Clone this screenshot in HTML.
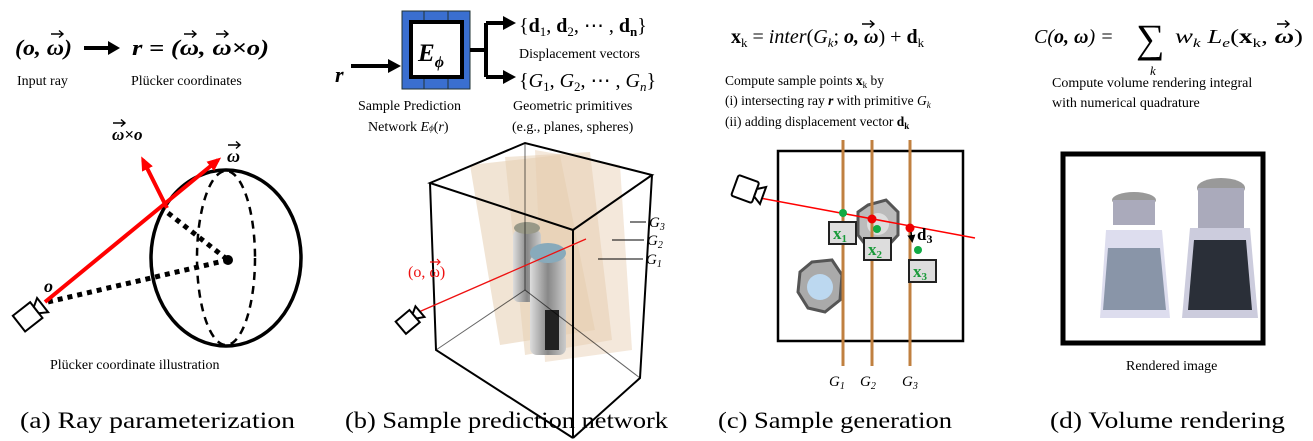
<!DOCTYPE html>
<html><head><meta charset="utf-8"><style>
html,body{margin:0;padding:0;background:#fff;}
svg{display:block;font-family:"Liberation Serif",serif;}
</style></head><body>
<svg width="1313" height="441" viewBox="0 0 1313 441" xmlns="http://www.w3.org/2000/svg">
<defs>
<marker id="ab" markerWidth="8" markerHeight="8" refX="5" refY="4" orient="auto" markerUnits="userSpaceOnUse"><path d="M0,0 L8,4 L0,8 Z" fill="#000"/></marker>
<marker id="ar" markerWidth="14" markerHeight="12" refX="10" refY="6" orient="auto" markerUnits="userSpaceOnUse"><path d="M0,0 L14,6 L0,12 Z" fill="#f00"/></marker>
<linearGradient id="glass" x1="0" x2="1"><stop offset="0" stop-color="#ddd"/><stop offset="0.5" stop-color="#888"/><stop offset="1" stop-color="#ccc"/></linearGradient>
<path id="va" d="M0,0 H12 M8,-3.5 L12,0 L8,3.5" stroke="#000" stroke-width="1.4" fill="none"/>
</defs>

<!-- (a) -->
<text x="15" y="55" font-size="22" font-weight="bold" font-style="italic" textLength="57" lengthAdjust="spacingAndGlyphs">(o, ω)</text>
<use href="#va" x="51" y="34"/>
<path d="M84,48 L112,48" stroke="#000" stroke-width="4"/><path d="M108,41 L120,48 L108,55Z"/>
<text x="132" y="55" font-size="22" font-weight="bold" font-style="italic" textLength="137" lengthAdjust="spacingAndGlyphs">r = (ω, ω×o)</text>
<use href="#va" x="184" y="34"/>
<use href="#va" x="216" y="34"/>
<text x="17" y="85" font-size="14">Input ray</text>
<text x="131" y="85" font-size="14">Plücker coordinates</text>

<ellipse cx="226" cy="258" rx="75" ry="88" fill="none" stroke="#000" stroke-width="3.5"/>
<ellipse cx="226" cy="258" rx="29" ry="87" fill="none" stroke="#000" stroke-width="2.5" stroke-dasharray="8,6"/>
<line x1="48" y1="302" x2="228" y2="260" stroke="#000" stroke-width="5" stroke-dasharray="5,5"/>
<line x1="168" y1="213" x2="228" y2="260" stroke="#000" stroke-width="5" stroke-dasharray="5,5"/>
<circle cx="228" cy="260" r="5"/>
<line x1="45" y1="302" x2="218" y2="160" stroke="#f00" stroke-width="4" marker-end="url(#ar)"/>
<line x1="167" y1="208" x2="143" y2="160" stroke="#f00" stroke-width="4" marker-end="url(#ar)"/>
<text x="112" y="140" font-size="17" font-weight="bold" font-style="italic">ω×o</text>
<use href="#va" x="113" y="123"/>
<text x="227" y="162" font-size="18" font-weight="bold" font-style="italic">ω</text>
<use href="#va" x="228" y="145"/>
<text x="44" y="292" font-size="18" font-weight="bold" font-style="italic">o</text>
<g transform="translate(30,315) rotate(-38)"><rect x="-14" y="-10" width="22" height="20" fill="#fff" stroke="#000" stroke-width="2"/><path d="M8,-4 L16,-9 L16,9 L8,4Z" fill="#fff" stroke="#000" stroke-width="2"/></g>
<text x="50" y="369" font-size="14">Plücker coordinate illustration</text>
<text x="20" y="428" font-size="23" textLength="275" lengthAdjust="spacingAndGlyphs">(a) Ray parameterization</text>

<!-- (b) -->
<text x="335" y="82" font-size="22" font-weight="bold" font-style="italic">r</text>
<path d="M351,66 L390,66" stroke="#000" stroke-width="4"/><path d="M388,59 L401,66 L388,73Z"/>
<rect x="402" y="11" width="68" height="78" fill="#3a6fd0" stroke="#233" stroke-width="1"/>
<line x1="424" y1="11" x2="424" y2="89" stroke="#233"/><line x1="448" y1="11" x2="448" y2="89" stroke="#233"/>
<rect x="411" y="22" width="51" height="55" fill="#fff" stroke="#000" stroke-width="4"/>
<text x="418" y="61" font-size="25" font-weight="bold" font-style="italic">E<tspan font-size="16" dy="6">ϕ</tspan></text>
<path d="M470,50 L486,50 M486,23 L486,77 M486,23 L505,23 M486,77 L505,77" stroke="#000" stroke-width="4" fill="none"/>
<path d="M503,16 L516,23 L503,30Z"/><path d="M503,70 L516,77 L503,84Z"/>
<text x="519" y="32" font-size="20">{<tspan font-weight="bold">d</tspan><tspan font-size="13" dy="4">1</tspan><tspan dy="-4">, </tspan><tspan font-weight="bold">d</tspan><tspan font-size="13" dy="4">2</tspan><tspan dy="-4">, ⋯ , </tspan><tspan font-weight="bold">d</tspan><tspan font-size="13" dy="4" font-weight="bold">n</tspan><tspan dy="-4">}</tspan></text>
<text x="519" y="58" font-size="14">Displacement vectors</text>
<text x="519" y="87" font-size="20">{<tspan font-style="italic">G</tspan><tspan font-size="13" dy="4">1</tspan><tspan dy="-4">, </tspan><tspan font-style="italic">G</tspan><tspan font-size="13" dy="4">2</tspan><tspan dy="-4">, ⋯ , </tspan><tspan font-style="italic">G</tspan><tspan font-size="13" dy="4" font-style="italic">n</tspan><tspan dy="-4">}</tspan></text>
<text x="358" y="110" font-size="14">Sample Prediction</text>
<text x="368" y="131" font-size="14">Network <tspan font-style="italic">E</tspan><tspan font-size="9" font-style="italic">ϕ</tspan>(<tspan font-style="italic">r</tspan>)</text>
<text x="513" y="110" font-size="14">Geometric primitives</text>
<text x="512" y="131" font-size="14">(e.g., planes, spheres)</text>

<polygon points="470,165 560,155 595,330 500,345" fill="#e6cdb0" opacity="0.55"/>
<polygon points="505,157 590,152 612,340 525,355" fill="#e6cdb0" opacity="0.5"/>
<polygon points="535,150 620,165 632,350 545,362" fill="#e6cdb0" opacity="0.45"/>
<rect x="513" y="230" width="28" height="72" rx="6" fill="url(#glass)"/>
<ellipse cx="527" cy="228" rx="13" ry="6" fill="#998"/>
<rect x="530" y="255" width="36" height="100" rx="7" fill="url(#glass)"/>
<ellipse cx="548" cy="253" rx="18" ry="10" fill="#8ab"/>
<rect x="545" y="310" width="14" height="40" fill="#222"/>
<g stroke="#000" stroke-width="2" fill="none">
<path d="M430,183 L525,143 L652,175 L573,230 Z"/>
<path d="M430,183 L436,350 L573,438"/>
<path d="M573,230 L573,438"/>
<path d="M652,175 L640,378 L573,438"/>
<path d="M525,143 L525,290" stroke-width="1" opacity="0.6"/>
<path d="M436,350 L525,290 L640,378" stroke-width="1" opacity="0.6"/>
</g>
<line x1="405" y1="318" x2="586" y2="239" stroke="#e11" stroke-width="1.3"/>
<text x="408" y="277" font-size="16" fill="#e11">(o, ω)</text>
<path d="M430,262 H440 M437,259 L440,262 L437,265" stroke="#e11" stroke-width="1.2" fill="none"/>
<g transform="translate(410,320) rotate(-40)"><rect x="-12" y="-8" width="18" height="16" fill="#fff" stroke="#000" stroke-width="2"/><path d="M6,-3 L13,-7 L13,7 L6,3Z" fill="#fff" stroke="#000" stroke-width="2"/></g>
<g stroke="#000" stroke-width="1"><line x1="630" y1="222" x2="646" y2="222"/><line x1="612" y1="240" x2="644" y2="240"/><line x1="598" y1="259" x2="643" y2="259"/></g>
<text x="649" y="227" font-size="15" font-style="italic">G<tspan font-size="10" dy="3">3</tspan></text>
<text x="647" y="245" font-size="15" font-style="italic">G<tspan font-size="10" dy="3">2</tspan></text>
<text x="646" y="264" font-size="15" font-style="italic">G<tspan font-size="10" dy="3">1</tspan></text>
<text x="345" y="428" font-size="23" textLength="323" lengthAdjust="spacingAndGlyphs">(b) Sample prediction network</text>

<!-- (c) -->
<text x="731" y="43" font-size="20"><tspan font-weight="bold">x</tspan><tspan font-size="13" dy="4">k</tspan><tspan dy="-4"> = </tspan><tspan font-style="italic">inter</tspan>(<tspan font-style="italic">G</tspan><tspan font-size="13" dy="4" font-style="italic">k</tspan><tspan dy="-4">; </tspan><tspan font-weight="bold" font-style="italic">o, ω</tspan>) + <tspan font-weight="bold">d</tspan><tspan font-size="13" dy="4">k</tspan></text>
<use href="#va" x="862" y="24"/>
<text x="725" y="85" font-size="13.5">Compute sample points <tspan font-weight="bold">x</tspan><tspan font-size="9" dy="3">k</tspan><tspan dy="-3"> by</tspan></text>
<text x="725" y="105" font-size="13.5">(i)   intersecting ray <tspan font-weight="bold" font-style="italic">r</tspan> with primitive <tspan font-style="italic">G</tspan><tspan font-size="9" dy="3" font-style="italic">k</tspan></text>
<text x="725" y="126" font-size="13.5">(ii)  adding displacement vector <tspan font-weight="bold">d</tspan><tspan font-size="9" dy="3" font-weight="bold">k</tspan></text>
<rect x="778" y="151" width="185" height="190" fill="none" stroke="#000" stroke-width="2.5"/>
<polygon points="868,205 886,200 898,212 898,235 886,248 868,248 858,235 858,212" fill="#bbb" stroke="#555" stroke-width="3"/>
<circle cx="878" cy="224" r="11" fill="#ddd"/>
<polygon points="812,262 832,260 842,275 840,300 825,312 808,308 798,292 800,272" fill="#aaa" stroke="#555" stroke-width="3"/>
<circle cx="820" cy="287" r="13" fill="#bcd8f0"/>
<g stroke="#c08040" stroke-width="3"><line x1="843" y1="140" x2="843" y2="366"/><line x1="872" y1="140" x2="872" y2="366"/><line x1="910" y1="140" x2="910" y2="366"/></g>
<line x1="760" y1="198" x2="975" y2="238" stroke="#f00" stroke-width="1.5"/>
<g transform="translate(748,190) rotate(20)"><rect x="-14" y="-11" width="22" height="22" rx="2" fill="#fff" stroke="#000" stroke-width="2"/><path d="M8,-4 L16,-9 L16,9 L8,4Z" fill="#fff" stroke="#000" stroke-width="2"/></g>
<circle cx="843" cy="213" r="4" fill="#1a4"/><circle cx="872" cy="219" r="4.5" fill="#e00"/><circle cx="877" cy="229" r="4" fill="#1a4"/>
<circle cx="910" cy="228" r="4.5" fill="#e00"/><circle cx="918" cy="250" r="4" fill="#1a4"/>
<line x1="911" y1="232" x2="912" y2="240" stroke="#000" stroke-width="1.5" marker-end="url(#ab)"/>
<text x="917" y="240" font-size="17" font-weight="bold">d<tspan font-size="12" dy="3">3</tspan></text>
<g fill="#ddd" stroke="#222" stroke-width="2"><rect x="829" y="222" width="27" height="22"/><rect x="864" y="238" width="27" height="22"/><rect x="909" y="260" width="27" height="22"/></g>
<g fill="#1a9a3a" font-size="17" font-weight="bold"><text x="833" y="239">x<tspan font-size="11" dy="3">1</tspan></text><text x="868" y="255">x<tspan font-size="11" dy="3">2</tspan></text><text x="913" y="277">x<tspan font-size="11" dy="3">3</tspan></text></g>
<g font-size="15" font-style="italic"><text x="829" y="386">G<tspan font-size="10" dy="3">1</tspan></text><text x="860" y="386">G<tspan font-size="10" dy="3">2</tspan></text><text x="902" y="386">G<tspan font-size="10" dy="3">3</tspan></text></g>
<text x="718" y="428" font-size="23" textLength="234" lengthAdjust="spacingAndGlyphs">(c) Sample generation</text>

<!-- (d) -->
<text x="1034" y="43" font-size="20" font-style="italic">C(<tspan font-weight="bold">o, ω</tspan>) =</text>
<text x="1136" y="52" font-size="40">∑</text>
<text x="1150" y="75" font-size="13" font-style="italic">k</text>
<text x="1175" y="43" font-size="20" textLength="128" lengthAdjust="spacingAndGlyphs"><tspan font-style="italic">w</tspan><tspan font-size="13" dy="4" font-style="italic">k</tspan><tspan dy="-4" font-style="italic"> L</tspan><tspan font-size="13" dy="4" font-style="italic">e</tspan><tspan dy="-4">(</tspan><tspan font-weight="bold">x</tspan><tspan font-size="13" dy="4">k</tspan><tspan dy="-4">, </tspan><tspan font-weight="bold" font-style="italic">ω</tspan>)</text>
<use href="#va" x="1277" y="24"/>
<text x="1052" y="87" font-size="14">Compute volume rendering integral</text>
<text x="1052" y="107" font-size="14">with numerical quadrature</text>
<rect x="1063" y="154" width="200" height="189" fill="#fff" stroke="#000" stroke-width="5"/>
<ellipse cx="1134" cy="200" rx="22" ry="8" fill="#999"/>
<rect x="1113" y="200" width="42" height="25" fill="#aab"/>
<path d="M1106,230 L1162,230 L1170,318 L1100,318 Z" fill="#dde"/>
<path d="M1108,248 L1160,248 L1166,310 L1103,310 Z" fill="#8995a8"/>
<ellipse cx="1221" cy="188" rx="24" ry="10" fill="#999"/>
<rect x="1198" y="188" width="46" height="40" fill="#aab"/>
<path d="M1190,228 L1250,228 L1258,318 L1182,318 Z" fill="#ccd"/>
<path d="M1194,240 L1246,240 L1252,310 L1188,310 Z" fill="#2a2f38"/>
<text x="1126" y="370" font-size="14">Rendered image</text>
<text x="1050" y="428" font-size="23" textLength="235" lengthAdjust="spacingAndGlyphs">(d) Volume rendering</text>
</svg>
</body></html>
